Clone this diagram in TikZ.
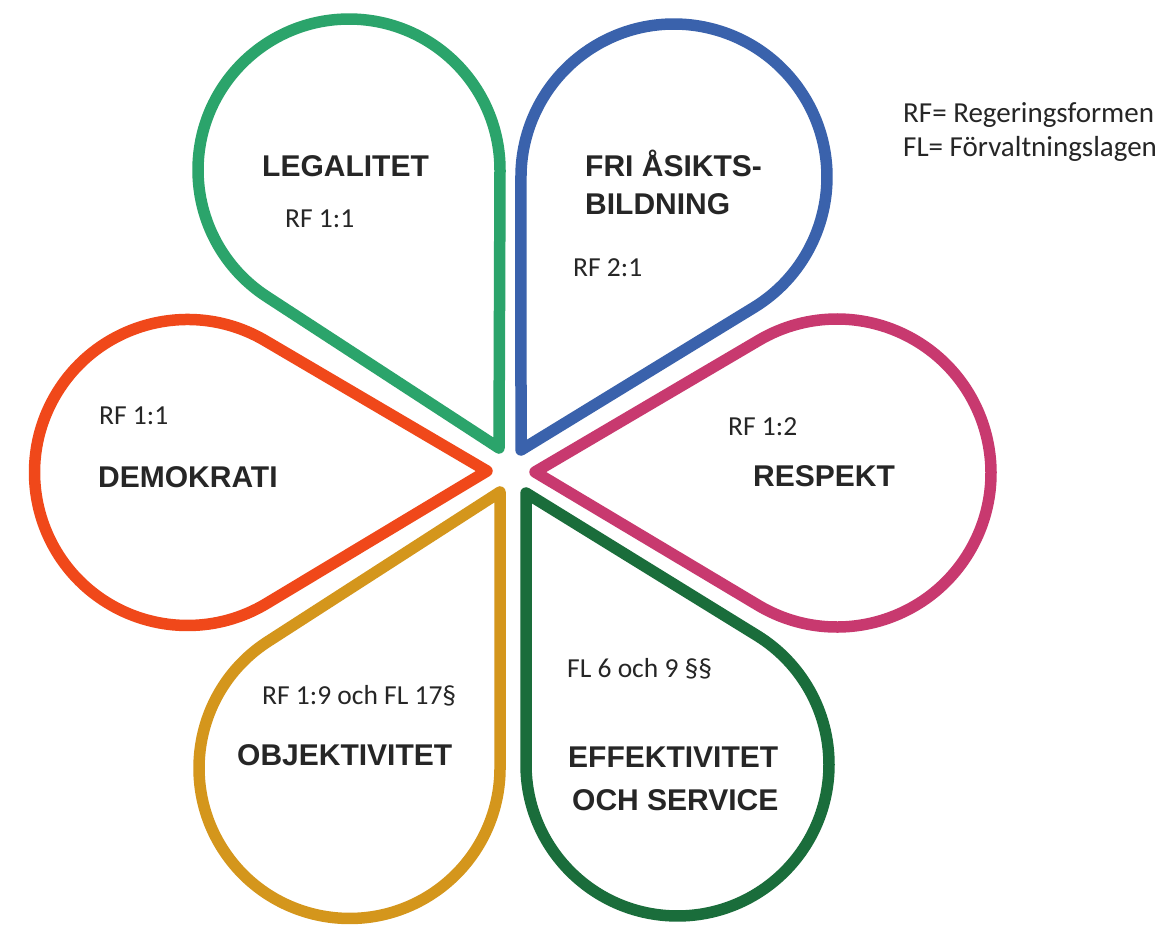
\documentclass[tikz,border=0pt]{standalone}
\usepackage{fontspec}
\setmainfont{Liberation Sans}
\newfontfamily\calfont{Carlito}
\definecolor{cgreen}{HTML}{2BA46B}
\definecolor{cblue}{HTML}{3A62AC}
\definecolor{cmag}{HTML}{C8396F}
\definecolor{cred}{HTML}{F0481A}
\definecolor{cgold}{HTML}{D4961C}
\definecolor{cdgreen}{HTML}{1A6D3B}
\definecolor{txt}{HTML}{262626}
% #1 colour, #2 tip x, #3 tip y, #4 centre x, #5 centre y, #6 radius
\newcommand{\mypetal}[6]{%
  \pgfmathsetmacro\pDx{#4-#2}%
  \pgfmathsetmacro\pDy{#5-#3}%
  \pgfmathsetmacro\pD{veclen(\pDx,\pDy)}%
  \pgfmathsetmacro\pA{atan2(\pDy,\pDx)}%
  \pgfmathsetmacro\pAl{asin(#6/\pD)}%
  \pgfmathsetmacro\pT{\pD*cos(\pAl)}%
  \pgfmathsetmacro\pS{\pA-\pAl-90}%
  \pgfmathsetmacro\pE{\pA+\pAl+90}%
  \pgfmathsetmacro\pL{\pA-\pAl}%
  \draw[petal,#1] (#2,#3) -- ++(\pL:\pT pt)
    arc[start angle=\pS, end angle=\pE, radius=#6pt] -- cycle;
}
\begin{document}
\begin{tikzpicture}[x=1pt,y=1pt,
  petal/.style={line width=11.5pt,line join=round},
  title/.style={anchor=base west,inner sep=0pt,text=txt,
    font=\fontsize{30}{36}\selectfont\bfseries},
  ref/.style={anchor=base west,inner sep=0pt,text=txt,
    font=\calfont\fontsize{27.5}{32}\selectfont},
  legend/.style={anchor=base west,inner sep=0pt,text=txt,
    font=\calfont\fontsize{29}{34}\selectfont}]
\useasboundingbox[fill=white] (0,0) rectangle (1167,924);

\mypetal{cgreen}{499}{476}{349}{754}{151}
\mypetal{cblue}{521}{474}{674}{747}{153}
\mypetal{cred}{487}{453}{187.5}{451.5}{153}
\mypetal{cmag}{535}{452}{837}{451}{154}
\mypetal{cgold}{500}{432}{349.5}{156}{150.5}
\mypetal{cdgreen}{526}{431}{677.5}{159.5}{151.5}

% green petal
\node[title] (legal) at (262,747) {LEGALITET};
\node[ref] (legalref) at (285,696) {RF 1:1};
% blue petal
\node[title] (fri1) at (585,747) {FRI ÅSIKTS-};
\node[title] (fri2) at (585,709) {BILDNING};
\node[ref] (friref) at (573,647) {RF 2:1};
% red petal
\node[ref] (demref) at (99,499) {RF 1:1};
\node[title] (dem) at (98,436) {DEMOKRATI};
% magenta petal
\node[ref] (respref) at (728,488) {RF 1:2};
\node[title] (resp) at (753,437) {RESPEKT};
% gold petal
\node[ref] (objref) at (262,219) {RF 1:9 och FL 17§};
\node[title] (obj) at (237,159) {OBJEKTIVITET};
% dark green petal
\node[ref] (effref) at (567,246) {FL 6 och 9 §§};
\node[title] (eff1) at (568,157) {EFFEKTIVITET};
\node[title] (eff2) at (572,114) {OCH SERVICE};
% legend
\node[legend] (leg1) at (903,801) {RF= Regeringsformen};
\node[legend] (leg2) at (903,767) {FL= Förvaltningslagen};
\end{tikzpicture}
\end{document}
